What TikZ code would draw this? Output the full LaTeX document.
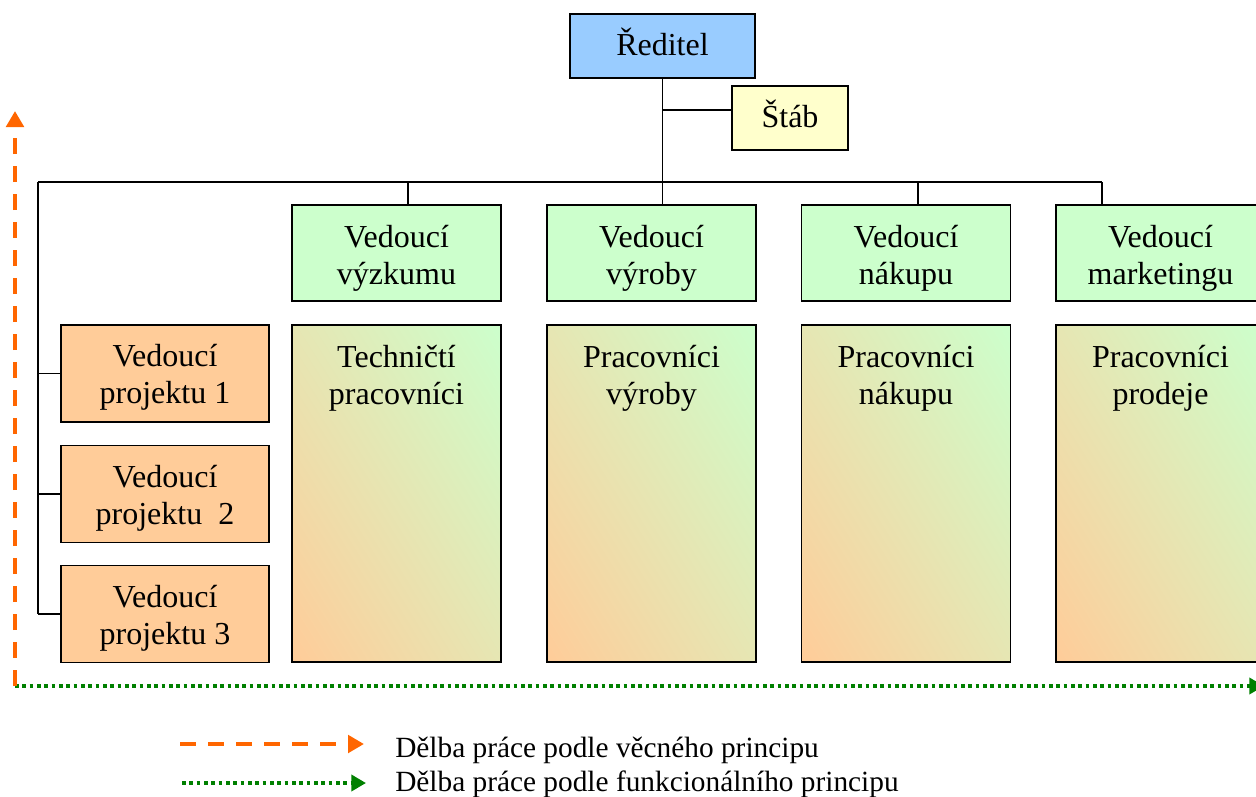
\documentclass[tikz,border=0pt]{standalone}
\usepackage{fontspec}
\setmainfont{Liberation Serif}
\usetikzlibrary{arrows.meta,shadings}
\definecolor{dirblue}{HTML}{99CCFF}
\definecolor{staffyellow}{HTML}{FFFFCC}
\definecolor{headgreen}{HTML}{CCFFCC}
\definecolor{projorange}{HTML}{FFCC99}
\definecolor{mixcol}{HTML}{E6E6B3}
\definecolor{arrorange}{HTML}{FF6600}
\definecolor{arrgreen}{HTML}{008000}
\begin{document}
\begin{tikzpicture}[x=0.75pt,y=-0.75pt,
  txt/.style={font=\fontsize{24}{27.75}\selectfont, align=center, inner sep=0pt},
  box/.style={txt, draw=black, line width=1.2pt, rectangle},
  oneline/.style={text height=17pt, text depth=3.5pt},
  dirbox/.style={box, oneline, fill=dirblue, minimum width=138.75pt, minimum height=48pt},
  stabbox/.style={box, oneline, fill=staffyellow, minimum width=87pt, minimum height=48pt},
  headbox/.style={box, fill=headgreen, minimum width=156.75pt, minimum height=72pt},
  projbox/.style={box, fill=projorange, minimum width=156pt, minimum height=72.5pt},
  workbox/.style={draw=black, line width=1.2pt, rectangle, inner sep=0pt,
    minimum width=156.75pt, minimum height=252.75pt,
    lower left=projorange, upper right=headgreen, upper left=mixcol, lower right=mixcol},
  conn/.style={draw=black, line width=1.4pt},
  vecarrow/.style={draw=arrorange, line width=3.2pt, dash pattern=on 12pt off 9pt,
    -{Triangle[length=12pt,width=13pt,fill=arrorange]}},
  funarrow/.style={draw=arrgreen, line width=2.8pt, dash pattern=on 2.8pt off 2.7pt,
    -{Triangle[length=11pt,width=12pt,fill=arrgreen]}},
  legtext/.style={font=\fontsize{22}{26}\selectfont, anchor=base west, inner sep=0pt}
]
\useasboundingbox (0,0) rectangle (1256,796);

% top of the hierarchy
\node[dirbox] (dir) at (662.5,46) {Ředitel};
\node[stabbox] (stab) at (790,118) {Štáb};

% functional heads
\node[headbox] (g1) at (396.5,253) {};
\node[headbox] (g2) at (651.5,253) {};
\node[headbox] (g3) at (906,253) {};
\node[headbox] (g4) at (1160.5,253) {};
\node[txt] (gt1) at ([yshift=-3.75pt]g1.center) {Vedoucí\\výzkumu};
\node[txt] (gt2) at ([yshift=-3.75pt]g2.center) {Vedoucí\\výroby};
\node[txt] (gt3) at ([yshift=-3.75pt]g3.center) {Vedoucí\\nákupu};
\node[txt] (gt4) at ([yshift=-3.75pt]g4.center) {Vedoucí\\marketingu};

% staff of each function
\node[workbox] (s1) at (396.5,493.5) {};
\node[workbox] (s2) at (651.5,493.5) {};
\node[workbox] (s3) at (906,493.5) {};
\node[workbox] (s4) at (1160.5,493.5) {};
\node[txt, anchor=north] (t1) at ([yshift=-15.5pt]s1.north) {Techničtí\\pracovníci};
\node[txt, anchor=north] (t2) at ([yshift=-15.5pt]s2.north) {Pracovníci\\výroby};
\node[txt, anchor=north] (t3) at ([yshift=-15.5pt]s3.north) {Pracovníci\\nákupu};
\node[txt, anchor=north] (t4) at ([yshift=-15.5pt]s4.north) {Pracovníci\\prodeje};

% project leaders
\node[projbox] (p1) at (165,373.5) {};
\node[projbox] (p2) at (165,494) {};
\node[projbox] (p3) at (165,614) {};
\node[txt] (pt1) at ([yshift=-3pt]p1.center) {Vedoucí\\projektu 1};
\node[txt] (pt2) at ([yshift=-3pt]p2.center) {Vedoucí\\projektu~~2};
\node[txt] (pt3) at ([yshift=-3pt]p3.center) {Vedoucí\\projektu 3};

% connectors
\coordinate (busL) at (38,182);
\coordinate (busR) at (1102,182);
\coordinate (d1) at (408,182);
\coordinate (d3) at (918,182);
\coordinate (d4) at (1102,182);
\coordinate (sj) at (663,110);
\draw[conn] (dir.south) -- (dir.south |- busL);
\draw[conn] (sj) -- (sj -| stab.west);
\draw[conn] (busL) -- (busR);
\draw[conn] (d1) -- (d1 |- g1.north);
\draw[conn] (dir.south |- busL) -- (dir.south |- g2.north);
\draw[conn] (d3) -- (d3 |- g3.north);
\draw[conn] (d4) -- (d4 |- g4.north);
\draw[conn] (busL) -- (busL |- p3.west);
\draw[conn] (busL |- p1.west) -- (p1.west);
\draw[conn] (busL |- p2.west) -- (p2.west);
\draw[conn] (busL |- p3.west) -- (p3.west);

% division-of-labour axes
\coordinate (ax0) at (15,686);
\coordinate (axU) at (15,111);
\coordinate (axR) at (1264,686);
\draw[funarrow] (ax0) -- (axR);
\draw[vecarrow] (ax0) -- (axU);

% legend
\coordinate (l1a) at (180,744);
\coordinate (l1b) at (364,744);
\coordinate (l2a) at (182,783);
\coordinate (l2b) at (366,783);
\draw[vecarrow] (l1a) -- (l1b);
\draw[funarrow] (l2a) -- (l2b);
\node[legtext] (lt1) at (395,757) {Dělba práce podle věcného principu};
\node[legtext] (lt2) at (395,791) {Dělba práce podle funkcionálního principu};
\end{tikzpicture}
\end{document}
